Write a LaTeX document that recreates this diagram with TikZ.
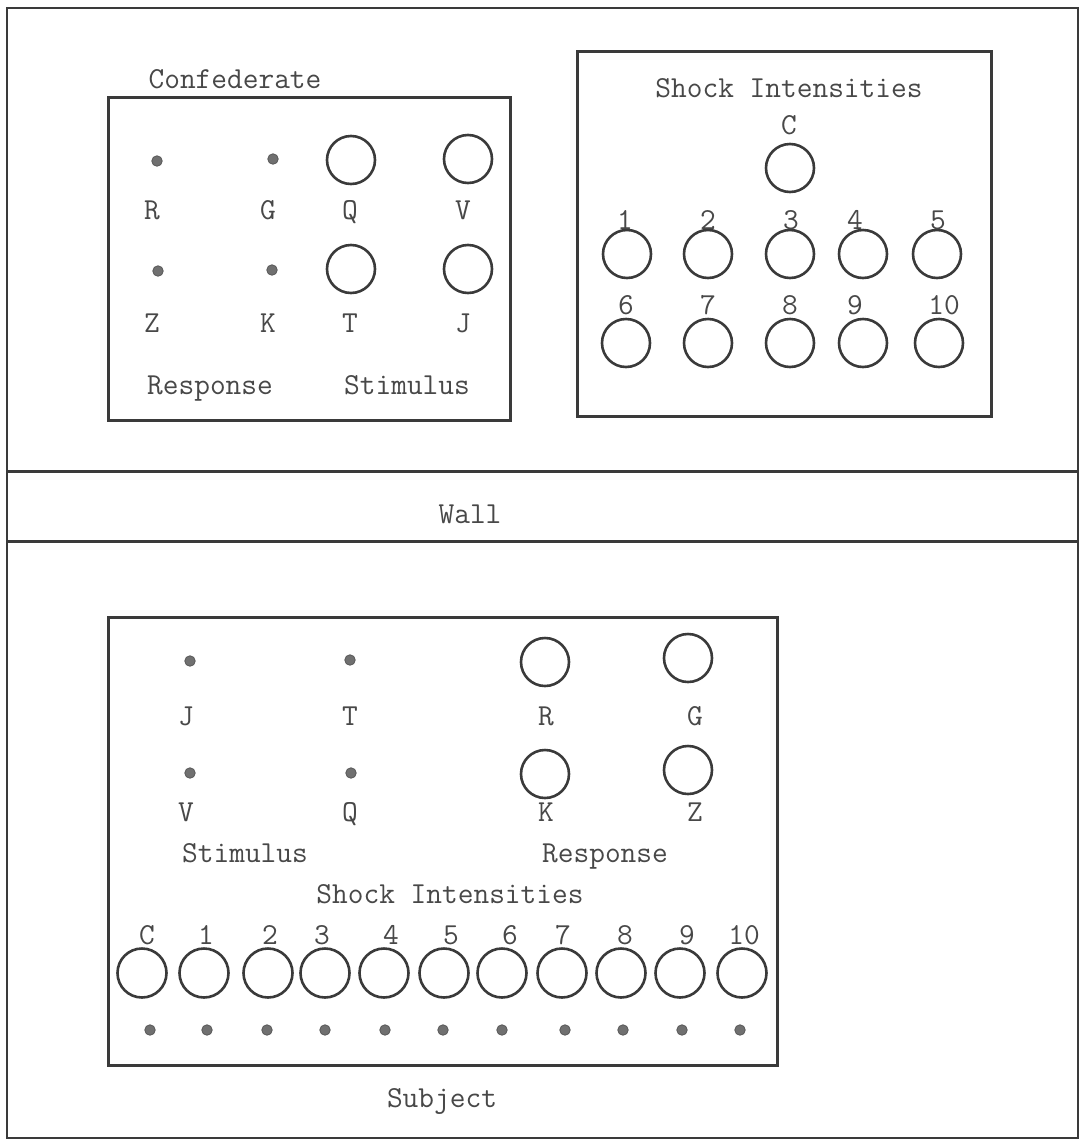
\documentclass[tikz,border=0pt]{standalone}
\usepackage{fontspec}
\definecolor{ink}{HTML}{3A3A3A}
\definecolor{txt}{HTML}{484848}
\definecolor{lampc}{HTML}{707070}
\begin{document}
\begin{tikzpicture}[x=1pt,y=-1pt,
  frame/.style={draw=ink, line width=2.6},
  panel/.style={draw=ink, line width=3},
  knob/.style={circle, draw=ink, line width=2.6, minimum size=48, inner sep=0},
  lamp/.style={circle, fill=lampc, draw=ink!85, line width=0.8, minimum size=10.5, inner sep=0},
  lbl/.style={font=\fontsize{30.5}{30.5}\selectfont\ttfamily, text=txt, inner sep=0, anchor=base}]
\useasboundingbox (0,0) rectangle (1082,1141);
\fill[white] (0,0) rectangle (1082,1141);
% outer frame and wall
\draw[frame] (7,8) rectangle (1078,1138);
\draw[frame, line width=3] (7,471) -- (1078,471);
\draw[frame, line width=3] (7,541) -- (1078,541);
\node[lbl] (wall) at (470,523) {Wall};

% ---------- Confederate panel ----------
\node[lbl] (conflab) at (235,88) {Confederate};
\draw[panel] (108,97) rectangle (510,420);
\node[lamp] (cR) at (157,161) {};
\node[lamp] (cG) at (273,159) {};
\node[knob] (cQ) at (351,160) {};
\node[knob] (cV) at (468,159) {};
\node[lbl] at (152,219) {R};
\node[lbl] at (268,219) {G};
\node[lbl] at (350,219) {Q};
\node[lbl] at (463,219) {V};
\node[lamp] (cZ) at (158,271) {};
\node[lamp] (cK) at (272,270) {};
\node[knob] (cT) at (351,269) {};
\node[knob] (cJ) at (468,269) {};
\node[lbl] at (152,332) {Z};
\node[lbl] at (268,332) {K};
\node[lbl] at (350,332) {T};
\node[lbl] at (463,332) {J};
\node[lbl] (cresp) at (210,394) {Response};
\node[lbl] (cstim) at (407,394) {Stimulus};

% ---------- Confederate shock panel ----------
\draw[panel] (577,51) rectangle (991,416);
\node[lbl] (shock1) at (789,97) {Shock Intensities};
\node[lbl] at (789,134) {C};
\node[knob] (sC) at (790,168) {};
\foreach \n/\x/\lx in {1/627/625, 2/708/708, 3/790/791, 4/863/855, 5/937/938}{
  \node[knob] (s\n) at (\x,254) {};
  \node[lbl] at (\lx,229) {\n};
}
\foreach \n/\x/\lx in {6/626/626, 7/708/708, 8/790/790, 9/863/855, 10/939/944}{
  \node[knob] (s\n) at (\x,343) {};
  \node[lbl] at (\lx,314) {\n};
}

% ---------- Subject panel ----------
\draw[panel] (108,617) rectangle (777,1065);
\node[lamp] (sJ) at (190,661) {};
\node[lamp] (sT) at (350,660) {};
\node[knob] (sR) at (545,662) {};
\node[knob] (sG) at (688,658) {};
\node[lbl] at (186,725) {J};
\node[lbl] at (350,725) {T};
\node[lbl] at (546,725) {R};
\node[lbl] at (695,725) {G};
\node[lamp] (sV) at (190,773) {};
\node[lamp] (sQ) at (351,773) {};
\node[knob] (sK) at (545,774) {};
\node[knob] (sZ) at (688,770) {};
\node[lbl] at (186,821) {V};
\node[lbl] at (350,821) {Q};
\node[lbl] at (546,821) {K};
\node[lbl] at (695,821) {Z};
\node[lbl] (sstim) at (245,862) {Stimulus};
\node[lbl] (sresp) at (605,862) {Response};
\node[lbl] (shock2) at (450,903) {Shock Intensities};
\foreach \n/\lx/\cx/\dx in {C/147/142/150, 1/206/204/207, 2/270/268/267, 3/322/325/325, 4/391/384/385, 5/451/444/443, 6/510/502/502, 7/563/562/565, 8/625/621/623, 9/687/680/682, 10/744/742/740}{
  \node[lbl] at (\lx,944) {\n};
  \node[knob, minimum size=49] (k\n) at (\cx,973) {};
  \node[lamp] (d\n) at (\dx,1030) {};
}
\node[lbl] (subj) at (442,1107) {Subject};
\end{tikzpicture}
\end{document}
